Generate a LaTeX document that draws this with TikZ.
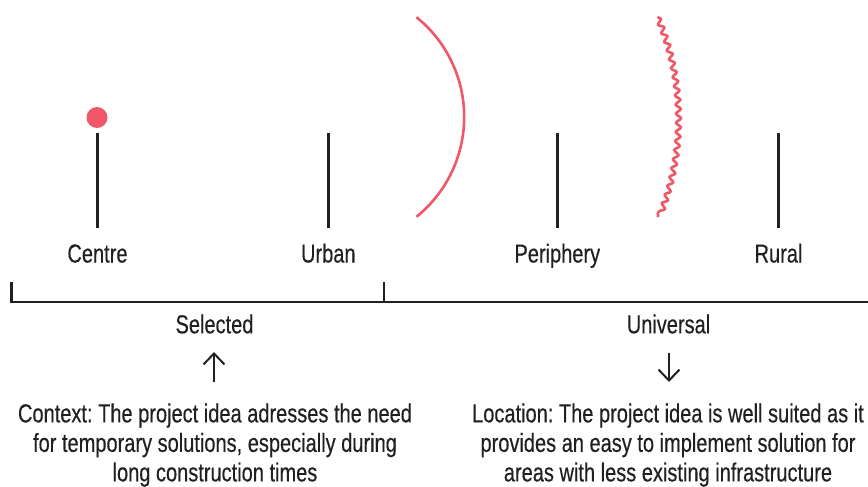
\documentclass[tikz,border=0pt]{standalone}
\usepackage{fontspec}
\setmainfont{Liberation Sans}[FakeStretch=0.77,FakeBold=0.35]
\usetikzlibrary{arrows.meta,decorations.pathmorphing}
\definecolor{accent}{RGB}{240,87,104}
\definecolor{ink}{RGB}{32,32,32}
\frenchspacing
\begin{document}
\begin{tikzpicture}[x=1pt,y=-1pt,
  tick/.style={draw=ink,line width=2.6pt},
  bracket/.style={draw=ink,line width=2.8pt},
  redline/.style={draw=accent,line width=2.6pt},
  lbl/.style={inner sep=0pt,text=ink,font=\fontsize{26}{29.5}\selectfont,anchor=base},
  para/.style={inner sep=0pt,text=ink,font=\fontsize{26}{29.5}\selectfont,align=center,anchor=north},
  thinarrow/.style={draw=ink,line width=2pt,-{Straight Barb[length=11pt,width=21pt]}}]
\useasboundingbox (0,0) rectangle (868,487);
% dot
\node[circle,fill=accent,minimum size=21pt,inner sep=0pt] (dot) at (97,117.5) {};
% tick coordinates
\coordinate (t1a) at (97.5,132.5);  \coordinate (t1b) at (97.5,227.5);
\coordinate (t2a) at (328.3,132.5); \coordinate (t2b) at (328.3,227.5);
\coordinate (t3a) at (557.3,132.5); \coordinate (t3b) at (557.3,227.5);
\coordinate (t4a) at (778.5,132.5); \coordinate (t4b) at (778.5,227.5);
\draw[tick] (t1a) -- (t1b);
\draw[tick] (t2a) -- (t2b);
\draw[tick] (t3a) -- (t3b);
\draw[tick] (t4a) -- (t4b);
% arc
\draw[redline] (336,117) ++(-51.1:128.2) arc[start angle=-51.1,end angle=51.1,radius=128.2];
% wavy arc
\draw[redline,decorate,decoration={snake,amplitude=2.4pt,segment length=9.2pt}]
  (420.1,117) ++(-22.84:257.6) arc[start angle=-22.84,end angle=22.84,radius=257.6];
% labels
\node[lbl] (centre) at (97.5,262.5) {Centre};
\node[lbl] (urban) at (328.3,262.5) {Urban};
\node[lbl] (periph) at (557.3,262.5) {Periphery};
\node[lbl] (rural) at (778.5,262.5) {Rural};
% bracket
\coordinate (bl) at (11.7,282);
\coordinate (bm) at (384,282);
\coordinate (bml) at (11.7,302);
\coordinate (bmm) at (384,302);
\coordinate (br) at (868,302);
\draw[bracket] (bl) -- (bml) -- (br);
\draw[bracket] (bm) -- (bmm);
% group labels
\node[lbl] (sel) at (214.5,333.3) {Selected};
\node[lbl] (uni) at (668.5,333.3) {Universal};
% arrows
\coordinate (a1s) at (214,381.5); \coordinate (a1e) at (214,352);
\coordinate (a2s) at (669,352.5); \coordinate (a2e) at (669,382);
\draw[thinarrow] (a1s) -- (a1e);
\draw[thinarrow] (a2s) -- (a2e);
% paragraphs
\node[para] (ctx) at (215,403.3) {Context: The project idea adresses the need\\for temporary solutions, especially during\\long construction times};
\node[para] (loc) at (668,403.3) {Location: The project idea is well suited as it\\provides an easy to implement solution for\\areas with less existing infrastructure};
\end{tikzpicture}
\end{document}
